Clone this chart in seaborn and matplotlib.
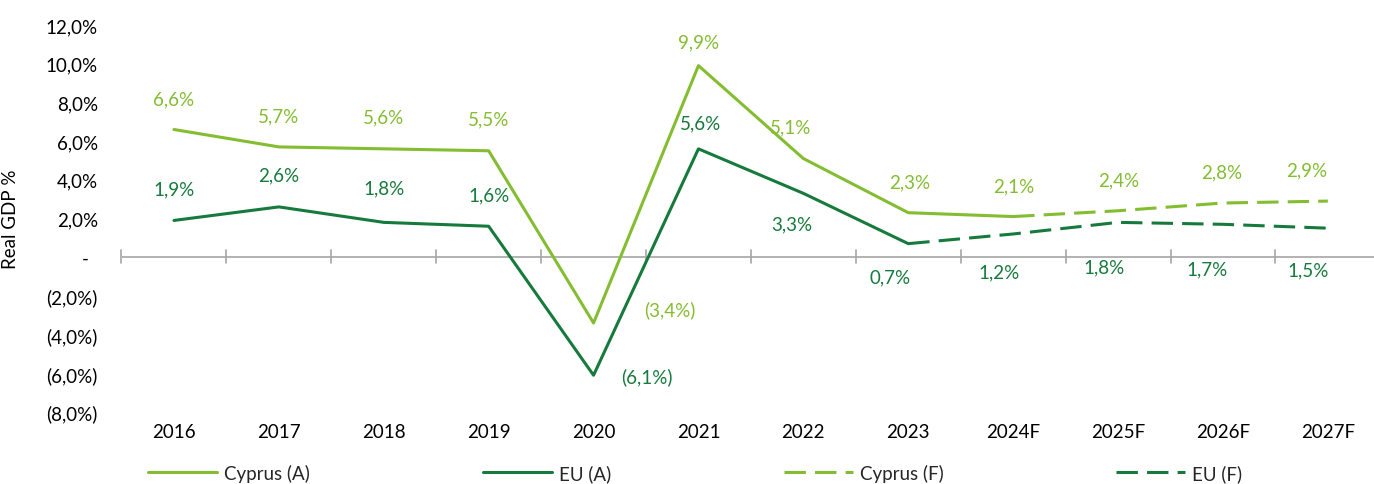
import numpy as np
import pandas as pd
import matplotlib
matplotlib.use("Agg")
import matplotlib.pyplot as plt
import matplotlib.transforms as mtransforms
from matplotlib.lines import Line2D
import seaborn as sns

sns.set_style("white")
plt.rcParams['font.family'] = ['Lato', 'DejaVu Sans']

# veri
yillar = ["2016", "2017", "2018", "2019", "2020", "2021", "2022", "2023",
          "2024F", "2025F", "2026F", "2027F"]
kibris = [6.6, 5.7, 5.6, 5.5, -3.4, 9.9, 5.1, 2.3, 2.1, 2.4, 2.8, 2.9]
ab = [1.9, 2.6, 1.8, 1.6, -6.1, 5.6, 3.3, 0.7, 1.2, 1.8, 1.7, 1.5]
kibris_son_gercek = "2024F"   # Cyprus actual runs up to here
ab_son_gercek = "2023"        # EU actual runs up to here

ACIK = "#84BD32"
KOYU = "#167A3C"
GRI = "#A6A6A6"
FS = 13.5
UZUN_KESIK = (0, (7, 3))

# etiket kaymalari (piksel, dx / dy asagi pozitif)
kibris_kayma = [(0, -31), (0, -31), (0, -32), (0, -32), (76, -14), (0, -24),
                (-13, -32), (1, -31), (1, -31), (1, -31), (-1, -31), (-21, -31)]
ab_kayma = [(0, -32), (0, -32), (0, -34), (0, -31), (53, 1), (2, -26),
            (-12, 31), (-18, 33), (-14, 38), (-14, 45), (-16, 45), (-20, 42)]

df = pd.DataFrame({"yil": yillar, "konum": np.arange(len(yillar)),
                   "Cyprus": kibris, "EU": ab})

fig = plt.figure(figsize=(13.74, 4.85), dpi=100)
ax = fig.add_axes([121.5 / 1374, 1 - 413 / 485, 1252.5 / 1374, 387 / 485])

k_idx = yillar.index(kibris_son_gercek)
a_idx = yillar.index(ab_son_gercek)

sns.lineplot(data=df.iloc[:k_idx + 1], x="konum", y="Cyprus", color=ACIK, lw=2.2, ax=ax)
sns.lineplot(data=df.iloc[k_idx:], x="konum", y="Cyprus", color=ACIK, lw=2.2,
             linestyle=UZUN_KESIK, ax=ax)
sns.lineplot(data=df.iloc[:a_idx + 1], x="konum", y="EU", color=KOYU, lw=2.2, ax=ax)
sns.lineplot(data=df.iloc[a_idx:], x="konum", y="EU", color=KOYU, lw=2.2,
             linestyle=UZUN_KESIK, ax=ax)


def yuzde(v):
    s = f"{abs(v):.1f}".replace(".", ",") + "%"
    return f"({s})" if v < 0 else s


px = 0.72  # 1 piksel = 0.72 pt (dpi 100)
for i in range(len(yillar)):
    for seri, kayma, renk in [(kibris, kibris_kayma, ACIK), (ab, ab_kayma, KOYU)]:
        dx, dy = kayma[i]
        ax.annotate(yuzde(seri[i]), (i, seri[i]), xytext=(dx * px, -dy * px),
                    textcoords="offset points", ha="center", va="center",
                    color=renk, fontsize=FS)

ax.set_ylim(-8, 12)
ax.set_xlim(-0.5, -0.5 + 1252.5 / 104.9)
ax.set_yticks(np.arange(-8, 13, 2))
ax.set_yticklabels([yuzde(v) if v != 0 else "-  " for v in np.arange(-8, 13, 2)],
                   fontsize=FS, color="black")
ax.tick_params(axis="y", length=0, pad=17)
ax.set_xticks([])
ax.set_xlabel("")
ax.set_ylabel("Real GDP %", fontsize=FS, color="black")
ax.yaxis.set_label_coords((19 - 121.5) / 1252.5, 0.5)
for sp in ax.spines.values():
    sp.set_visible(False)

# sifir cizgisi ve kategori ayraclari
ax.axhline(0, color=GRI, lw=1.2, zorder=1)
tr = mtransforms.blended_transform_factory(ax.transData, ax.transAxes)
sifir = 258
for b in np.arange(-0.5, len(yillar), 1.0):
    ax.plot([b, b], [(413 - sifir - 6) / 387, (413 - sifir + 7) / 387],
            transform=tr, color=GRI, lw=1.2, zorder=1, clip_on=False)

for i, y in enumerate(yillar):
    ax.text(i, -20 / 387, y, transform=tr, ha="center", va="center",
            fontsize=FS, color="black")

# lejant
ogeler = [("Cyprus (A)", ACIK, "-", 148), ("EU (A)", KOYU, "-", 483),
          ("Cyprus (F)", ACIK, UZUN_KESIK, 784), ("EU (F)", KOYU, UZUN_KESIK, 1116)]
for ad, renk, stil, x0 in ogeler:
    h = Line2D([], [], color=renk, lw=2.2, linestyle=stil)
    fig.legend(handles=[h], labels=[ad], loc="center left",
               bbox_to_anchor=(x0 / 1374, 1 - 474 / 485), frameon=False,
               borderaxespad=0, borderpad=0, handlelength=3.7, handletextpad=0.35,
               fontsize=FS)

fig.savefig("out.png", dpi=100)
